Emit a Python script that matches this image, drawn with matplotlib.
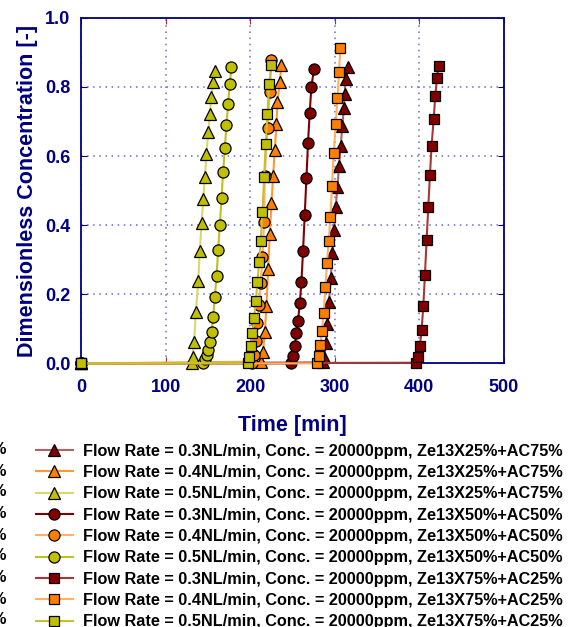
import numpy as np
import matplotlib
matplotlib.use("Agg")
import matplotlib.pyplot as plt

plt.rcParams['font.family'] = ['Liberation Sans', 'DejaVu Sans']
plt.rcParams['font.weight'] = 'bold'

# breakthrough curves: time [min], C/C0 [-]
t_tri_03 = [0, 286.0, 287.3, 289.3, 291.4, 293.3, 295.3, 297.3, 299.2, 301.2, 303.2, 305.1, 307.1, 309.1, 310.7, 311.8, 313.0, 315.7]
c_tri_03 = [0, 0.003, 0.019, 0.058, 0.113, 0.179, 0.246, 0.319, 0.386, 0.452, 0.511, 0.571, 0.629, 0.687, 0.738, 0.780, 0.822, 0.859]
t_tri_04 = [0, 212.4, 215.1, 217.2, 219.2, 221.1, 223.1, 225.1, 227.0, 229.0, 231.0, 232.2, 234.9, 236.9]
c_tri_04 = [0, 0.005, 0.034, 0.092, 0.167, 0.273, 0.374, 0.463, 0.542, 0.618, 0.693, 0.757, 0.814, 0.864]
t_tri_05 = [0, 130.6, 131.6, 133.5, 135.5, 138.3, 140.2, 142.2, 144.2, 146.2, 148.1, 150.1, 152.1, 154.0, 156.0, 158.0]
c_tri_05 = [0, 0.002, 0.019, 0.061, 0.148, 0.238, 0.325, 0.405, 0.475, 0.540, 0.606, 0.669, 0.722, 0.772, 0.815, 0.846]

t_cir_03 = [0, 248.8, 250.7, 252.7, 254.7, 256.6, 258.6, 260.6, 262.5, 264.5, 266.5, 268.4, 270.4, 272.4, 275.5]
c_cir_03 = [0, 0.0, 0.022, 0.051, 0.087, 0.124, 0.174, 0.236, 0.326, 0.430, 0.537, 0.639, 0.726, 0.801, 0.852]
t_cir_04 = [0, 202.6, 204.5, 206.5, 208.5, 210.4, 212.4, 214.4, 216.4, 217.2, 220.4, 223.1, 225.0]
c_cir_04 = [0, 0.002, 0.024, 0.066, 0.116, 0.169, 0.232, 0.309, 0.410, 0.542, 0.682, 0.786, 0.878]
t_cir_05 = [0, 143.4, 146.2, 148.2, 150.1, 152.1, 154.1, 156.0, 158.0, 160.0, 161.9, 163.9, 165.9, 167.8, 169.8, 171.8, 173.7, 175.7, 177.7]
c_cir_05 = [0, 0.001, 0.013, 0.024, 0.039, 0.061, 0.092, 0.135, 0.193, 0.254, 0.328, 0.401, 0.478, 0.553, 0.623, 0.690, 0.751, 0.809, 0.857]

t_sq_03 = [0, 396.7, 399.1, 401.0, 403.0, 405.0, 406.9, 408.9, 410.9, 412.8, 414.8, 417.2, 419.2, 421.1, 423.1]
c_sq_03 = [0, 0.002, 0.018, 0.050, 0.098, 0.166, 0.256, 0.358, 0.453, 0.544, 0.630, 0.706, 0.774, 0.825, 0.862]
t_sq_04 = [0, 279.1, 281.1, 283.1, 285.0, 287.0, 289.0, 290.9, 292.9, 294.9, 296.8, 298.8, 301.2, 303.2, 305.1, 306.7]
c_sq_04 = [0, 0.0, 0.022, 0.053, 0.095, 0.147, 0.220, 0.291, 0.355, 0.425, 0.514, 0.608, 0.692, 0.767, 0.842, 0.914]
t_sq_05 = [0, 196.7, 198.6, 200.6, 202.6, 204.5, 206.5, 208.5, 210.4, 212.4, 214.4, 216.4, 218.3, 220.3, 222.3, 225.0]
c_sq_05 = [0, 0.002, 0.019, 0.050, 0.087, 0.130, 0.181, 0.235, 0.293, 0.354, 0.437, 0.539, 0.635, 0.721, 0.808, 0.864]

labels = [
    "Flow Rate = 0.3NL/min, Conc. = 20000ppm, Ze13X25%+AC75%",
    "Flow Rate = 0.4NL/min, Conc. = 20000ppm, Ze13X25%+AC75%",
    "Flow Rate = 0.5NL/min, Conc. = 20000ppm, Ze13X25%+AC75%",
    "Flow Rate = 0.3NL/min, Conc. = 20000ppm, Ze13X50%+AC50%",
    "Flow Rate = 0.4NL/min, Conc. = 20000ppm, Ze13X50%+AC50%",
    "Flow Rate = 0.5NL/min, Conc. = 20000ppm, Ze13X50%+AC50%",
    "Flow Rate = 0.3NL/min, Conc. = 20000ppm, Ze13X75%+AC25%",
    "Flow Rate = 0.4NL/min, Conc. = 20000ppm, Ze13X75%+AC25%",
    "Flow Rate = 0.5NL/min, Conc. = 20000ppm, Ze13X75%+AC25%",
]

navy = '#000080'
face = {'0.3': '#800000', '0.4': '#ff8000', '0.5': '#c0c000'}

series = [
    (t_tri_03, c_tri_03, '^', face['0.3'], '#b86060', 8.5),
    (t_tri_04, c_tri_04, '^', face['0.4'], '#ff9933', 8.5),
    (t_tri_05, c_tri_05, '^', face['0.5'], '#d8d870', 8.5),
    (t_cir_03, c_cir_03, 'o', face['0.3'], '#800000', 8),
    (t_cir_04, c_cir_04, 'o', face['0.4'], '#ffb070', 8),
    (t_cir_05, c_cir_05, 'o', face['0.5'], '#c0c020', 8),
    (t_sq_03, c_sq_03, 's', face['0.3'], '#a83838', 7.5),
    (t_sq_04, c_sq_04, 's', face['0.4'], '#ffb060', 7.5),
    (t_sq_05, c_sq_05, 's', face['0.5'], '#c8c030', 7.5),
]

fig = plt.figure(figsize=(5.69, 6.27), dpi=100)
ax = fig.add_axes([0.1432, 0.4204, 0.7417, 0.5511])

handles = []
for (t, c, m, fc, lc, ms), lab in zip(series, labels):
    h, = ax.plot(t, c, color=lc, lw=1.5, marker=m, ms=ms, mfc=fc, mec='black',
                 mew=0.9, label=lab, clip_on=False, zorder=3)
    handles.append(h)

ax.set_xlim(0, 500)
ax.set_ylim(0, 1.0)
ax.set_xticks([0, 100, 200, 300, 400, 500])
ax.set_yticks([0.0, 0.2, 0.4, 0.6, 0.8, 1.0])
ax.set_yticklabels(['0.0', '0.2', '0.4', '0.6', '0.8', '1.0'])
ax.grid(True, color='#6a6ac8', linestyle=(0, (1, 3)), lw=1.1)
ax.set_axisbelow(True)
for s in ax.spines.values():
    s.set_color(navy)
    s.set_linewidth(1.3)
ax.tick_params(axis='x', direction='in', length=4, color='#a03030', top=True,
               labelsize=13, labelcolor=navy, pad=11)
ax.tick_params(axis='y', direction='in', length=4, color=navy, right=True,
               labelsize=13, labelcolor=navy, pad=8)
for lab in ax.get_xticklabels() + ax.get_yticklabels():
    lab.set_fontweight('bold')

ax.set_xlabel('Time [min]', fontsize=15.5, fontweight='bold', color=navy, labelpad=14)
ax.set_ylabel('Dimensionless Concentration [-]', fontsize=15.5, fontweight='bold',
              color=navy, labelpad=5)

fig.legend(handles=handles, labels=labels, loc='upper left',
           bbox_to_anchor=(0.0633, 0.2925), frameon=False, borderpad=0,
           borderaxespad=0, handlelength=2.27, handletextpad=0.6,
           labelspacing=0.39, prop={'size': 11.7, 'weight': 'bold'})

# first legend column of the original figure lies outside the frame; only '%' shows
row_y = [449, 471, 492, 513, 535, 556, 577, 599, 620]
for y in row_y:
    fig.text(5.5 / 569, 1 - y / 627, '%', ha='right', va='center',
             fontsize=11.7, fontweight='bold')

fig.savefig('out.png', dpi=100)
